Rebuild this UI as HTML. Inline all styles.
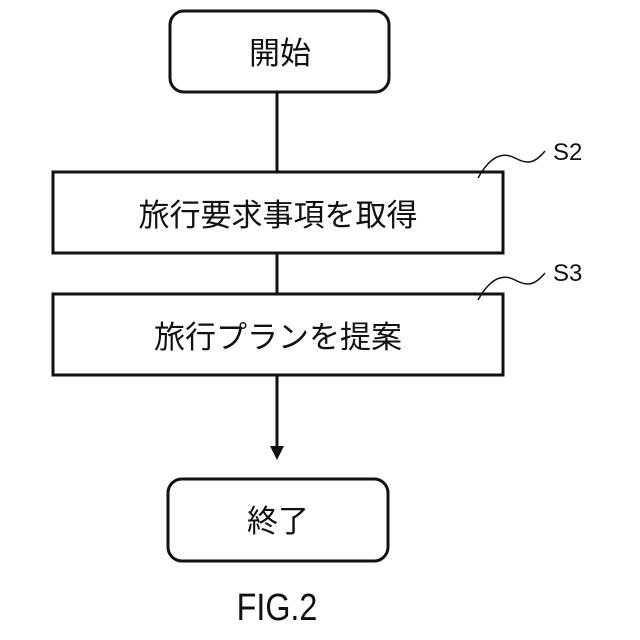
<!DOCTYPE html>
<html><head><meta charset="utf-8"><style>
html,body{margin:0;padding:0;background:#fff;}
svg{display:block}
text{font-family:"Liberation Sans","Noto Sans CJK JP",sans-serif;fill:#111;}
</style></head><body>
<svg width="640" height="640" viewBox="0 0 640 640" xmlns="http://www.w3.org/2000/svg">
<g fill="none" stroke="#111" stroke-width="3">
<rect x="170" y="11" width="219" height="81" rx="14"/>
<line x1="277" y1="92" x2="277" y2="172"/>
<rect x="53" y="172" width="450" height="81"/>
<line x1="277" y1="253" x2="277" y2="294"/>
<rect x="53" y="294" width="450" height="81"/>
<line x1="277" y1="375" x2="277" y2="448"/>
<rect x="168" y="479" width="220" height="82" rx="14"/>
<path d="M478 178 C488 160,500 150,515 158 C528 165,535 163,545 151" stroke-width="1.5"/>
<path d="M478 300 C488 282,500 272,515 280 C528 287,535 285,545 273" stroke-width="1.5"/>
</g>
<polygon points="270,446 284,446 277,460" fill="#111"/>
<text x="280" y="64" font-size="31" text-anchor="middle">開始</text>
<text x="278" y="226" font-size="31" text-anchor="middle">旅行要求事項を取得</text>
<text x="278" y="348" font-size="31" text-anchor="middle">旅行プランを提案</text>
<text x="278" y="532" font-size="31" text-anchor="middle">終了</text>
<text x="553" y="160" font-size="24">S2</text>
<text x="553" y="281" font-size="24">S3</text>
<text x="277" y="620" font-size="38" text-anchor="middle" transform="translate(277 0) scale(0.85 1) translate(-277 0)">FIG.2</text>
</svg>
</body></html>
